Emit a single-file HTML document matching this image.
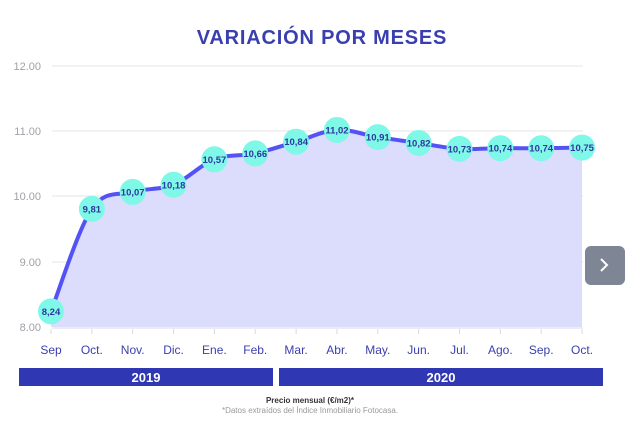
<!DOCTYPE html>
<html><head><meta charset="utf-8"><style>
body{margin:0;width:644px;height:421px;background:#fff;font-family:"Liberation Sans",sans-serif;overflow:hidden}
</style></head><body>
<svg id="s" width="644" height="421" xmlns="http://www.w3.org/2000/svg">
<text x="322" y="44" text-anchor="middle" font-size="20" letter-spacing="0.8" font-weight="bold" fill="#3a3fb0" font-family="Liberation Sans">VARIACIÓN POR MESES</text>
<g stroke="#e4e4e4" stroke-width="1">
<line x1="52" x2="583" y1="66" y2="66"/><line x1="52" x2="583" y1="131" y2="131"/>
<line x1="52" x2="583" y1="196" y2="196"/><line x1="52" x2="583" y1="262" y2="262"/>
</g>
<g font-size="11" fill="#a0a0a8" text-anchor="end">
<text x="41" y="70">12.00</text><text x="41" y="135">11.00</text><text x="41" y="200">10.00</text><text x="41" y="266">9.00</text><text x="41" y="331">8.00</text>
</g>
<path id="area" fill="#dcdcfc"/>
<line x1="52" x2="583" y1="328" y2="328" stroke="#d8d8e8"/>
<g id="ticks" stroke="#d8d8e0"></g>
<path id="line" fill="none" stroke="#5353f5" stroke-width="4"/>
<g id="pts"></g>
<g id="xl" font-size="12" fill="#3a3fb0" text-anchor="middle"></g>
<rect x="19" y="368" width="254" height="18" fill="#2f37b2"/>
<rect x="279" y="368" width="324" height="18" fill="#2f37b2"/>
<text x="146" y="382" text-anchor="middle" fill="#fff" font-weight="bold" font-size="13">2019</text>
<text x="441" y="382" text-anchor="middle" fill="#fff" font-weight="bold" font-size="13">2020</text>
<text x="310" y="403" text-anchor="middle" font-size="8" fill="#333" font-weight="bold">Precio mensual (€/m2)*</text>
<text x="310" y="413" text-anchor="middle" font-size="8" fill="#999">*Datos extraídos del Índice Inmobiliario Fotocasa.</text>
<rect x="585" y="246" width="40" height="39" rx="6" fill="#7e8594"/>
<path d="M601 259 l6 6 l-6 6" fill="none" stroke="#fff" stroke-width="2"/>
</svg>
<script>
var v=[8.24,9.81,10.07,10.18,10.57,10.66,10.84,11.02,10.91,10.82,10.73,10.74,10.74,10.75];
var m=["Sep","Oct.","Nov.","Dic.","Ene.","Feb.","Mar.","Abr.","May.","Jun.","Jul.","Ago.","Sep.","Oct."];
var P=v.map(function(a,i){return[51+i*40.85,327-(a-8)*65.25]});
var d="M"+P[0];
for(var i=0;i<P.length-1;i++){var p0=P[Math.max(i-1,0)],p1=P[i],p2=P[i+1],p3=P[Math.min(i+2,P.length-1)];
var c1=[p1[0]+(p2[0]-p0[0])/6,p1[1]+(p2[1]-p0[1])/6],c2=[p2[0]-(p3[0]-p1[0])/6,p2[1]-(p3[1]-p1[1])/6];
d+="C"+c1+" "+c2+" "+p2;}
document.getElementById("line").setAttribute("d",d);
document.getElementById("area").setAttribute("d",d+"L"+P[13][0]+",327L51,327Z");
var ns="http://www.w3.org/2000/svg",g=document.getElementById("pts"),xl=document.getElementById("xl"),tk=document.getElementById("ticks");
P.forEach(function(p,i){
var c=document.createElementNS(ns,"circle");c.setAttribute("cx",p[0]);c.setAttribute("cy",p[1]);c.setAttribute("r",13);c.setAttribute("fill","#7ff8e8");g.appendChild(c);
var t=document.createElementNS(ns,"text");t.setAttribute("x",p[0]);t.setAttribute("y",p[1]+3.5);t.setAttribute("text-anchor","middle");t.setAttribute("font-size","9.5");t.setAttribute("font-weight","bold");t.setAttribute("fill","#2f37a0");t.textContent=v[i].toFixed(2).replace(".",",");g.appendChild(t);
var l=document.createElementNS(ns,"text");l.setAttribute("x",p[0]);l.setAttribute("y",354);l.textContent=m[i];xl.appendChild(l);
var k=document.createElementNS(ns,"line");k.setAttribute("x1",p[0]);k.setAttribute("x2",p[0]);k.setAttribute("y1",329);k.setAttribute("y2",334);tk.appendChild(k);
});
</script>
</body></html>
